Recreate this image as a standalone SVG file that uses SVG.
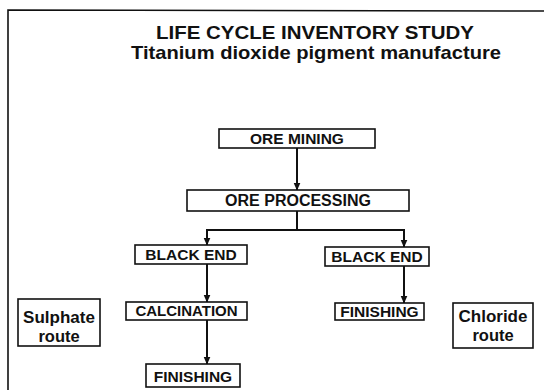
<svg xmlns="http://www.w3.org/2000/svg" width="544" height="390" viewBox="0 0 544 390">
<defs>
<style>
.t{font-family:"Liberation Sans",Arial,sans-serif;font-weight:bold;fill:#111;text-anchor:middle}
.box{fill:#fff;stroke:#111;stroke-width:1.6}
.ln{fill:none;stroke:#111;stroke-width:2}
</style>
<marker id="ah" viewBox="0 0 8 8" refX="7.5" refY="4" markerWidth="8" markerHeight="8" markerUnits="userSpaceOnUse" orient="auto">
<path d="M0,0.5 L8,4 L0,7.5 Z" fill="#111"/>
</marker>
</defs>
<rect width="544" height="390" fill="#fff"/>
<path d="M8,390 L8,10 L544,11" fill="none" stroke="#111" stroke-width="1.6"/>
<g id="title">
<text class="t" x="315" y="39" font-size="19" textLength="318" lengthAdjust="spacingAndGlyphs">LIFE CYCLE INVENTORY STUDY</text>
<text class="t" x="316" y="59" font-size="19" textLength="370" lengthAdjust="spacingAndGlyphs">Titanium dioxide pigment manufacture</text>
</g>
<g id="connectors">
<line class="ln" x1="297" y1="148" x2="297" y2="190" marker-end="url(#ah)"/>
<polyline class="ln" points="297,211 297,230"/>
<line class="ln" x1="206" y1="230" x2="405" y2="230"/>
<line class="ln" x1="207" y1="230" x2="207" y2="245" marker-end="url(#ah)"/>
<line class="ln" x1="404" y1="230" x2="404" y2="247" marker-end="url(#ah)"/>
<line class="ln" x1="207" y1="264" x2="207" y2="302" marker-end="url(#ah)"/>
<line class="ln" x1="207" y1="320" x2="207" y2="364" marker-end="url(#ah)"/>
<line class="ln" x1="404" y1="266" x2="404" y2="303" marker-end="url(#ah)"/>
</g>
<g id="ore-mining">
<rect class="box" x="219" y="129" width="156" height="19"/>
<text class="t" x="297" y="144" font-size="15.5">ORE MINING</text>
</g>
<g id="ore-processing">
<rect class="box" x="187" y="190" width="222" height="21"/>
<text class="t" x="298" y="206" font-size="16">ORE PROCESSING</text>
</g>
<g id="black-end-left">
<rect class="box" x="135" y="245" width="112" height="19"/>
<text class="t" x="191" y="260" font-size="15.5">BLACK END</text>
</g>
<g id="black-end-right">
<rect class="box" x="325" y="247" width="104" height="19"/>
<text class="t" x="377" y="262" font-size="15.5">BLACK END</text>
</g>
<g id="calcination">
<rect class="box" x="126" y="302" width="121" height="18"/>
<text class="t" x="186.5" y="316" font-size="15">CALCINATION</text>
</g>
<g id="finishing-left">
<rect class="box" x="146" y="364" width="94" height="23"/>
<text class="t" x="193" y="382" font-size="15.5">FINISHING</text>
</g>
<g id="finishing-right">
<rect class="box" x="335" y="303" width="89" height="17"/>
<text class="t" x="379.5" y="317" font-size="15.5">FINISHING</text>
</g>
<g id="sulphate-route">
<rect class="box" x="18" y="299" width="82" height="47"/>
<text class="t" x="59" y="323" font-size="17">Sulphate</text>
<text class="t" x="59" y="342" font-size="16.5">route</text>
</g>
<g id="chloride-route">
<rect class="box" x="453" y="303" width="80" height="45"/>
<text class="t" x="493" y="322" font-size="17">Chloride</text>
<text class="t" x="493" y="341" font-size="16.5">route</text>
</g>
</svg>
